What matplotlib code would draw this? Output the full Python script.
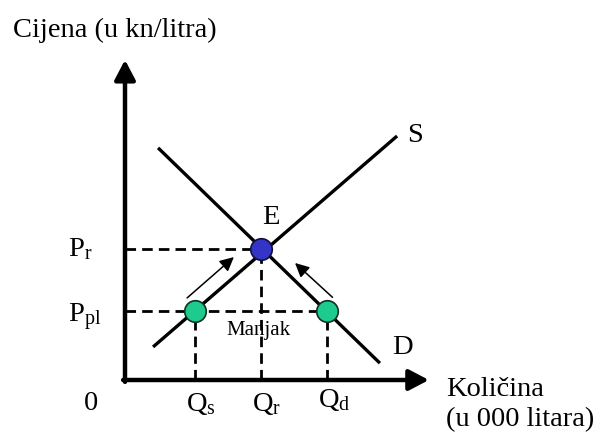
import matplotlib
matplotlib.use("Agg")
import matplotlib.pyplot as plt

plt.rcParams['font.family'] = ['Liberation Serif', 'DejaVu Serif']
plt.rcParams['mathtext.fontset'] = 'custom'
plt.rcParams['mathtext.rm'] = 'Liberation Serif'
plt.rcParams['mathtext.it'] = 'Liberation Serif'

# ---- data (economic units) ----
Q_s, Q_r, Q_d = 2.24, 4.36, 6.47          # quantities
P_r, P_pl = 4.20, 2.21                    # equilibrium and ceiling price
supply_q = [0.90, 8.72]
supply_p = [1.06, 7.82]
demand_q = [1.06, 8.17]
demand_p = [7.44, 0.54]
arrow_supply = [(1.99, 2.63), (3.49, 3.94)]   # tail, head
arrow_demand = [(6.65, 2.65), (5.45, 3.75)]
x_axis_max = 9.74
y_axis_max = 10.26

S = 31.2  # pixels per unit
fig = plt.figure(figsize=(6.0, 4.33), dpi=100)
ax = fig.add_axes([0, 0, 1, 1])
ax.set_xlim(-125 / S, (600 - 125) / S)
ax.set_ylim(-(433 - 380) / S, 380 / S)
ax.axis('off')

# axes with arrows
ax.annotate('', xy=(0, y_axis_max), xytext=(0, -0.06),
            arrowprops=dict(arrowstyle='-|>,head_length=0.8,head_width=0.42',
                            lw=3.2, color='black', shrinkA=0, shrinkB=0, mutation_scale=15))
ax.annotate('', xy=(x_axis_max, 0), xytext=(-0.06, 0),
            arrowprops=dict(arrowstyle='-|>,head_length=0.8,head_width=0.42',
                            lw=3.2, color='black', shrinkA=0, shrinkB=0, mutation_scale=15))

# dashed guides
dash = dict(color='black', lw=2.0, dashes=(3.8, 2.2))
ax.plot([0, Q_r], [P_r, P_r], **dash)
ax.plot([0, Q_d], [P_pl, P_pl], **dash)
ax.plot([Q_s, Q_s], [0, P_pl], **dash)
ax.plot([Q_r, Q_r], [0, P_r], **dash)
ax.plot([Q_d, Q_d], [0, P_pl], **dash)

# supply and demand
ax.plot(supply_q, supply_p, color='black', lw=2.4, solid_capstyle='butt')
ax.plot(demand_q, demand_p, color='black', lw=2.4, solid_capstyle='butt')

# movement arrows
for tail, head in (arrow_supply, arrow_demand):
    ax.annotate('', xy=head, xytext=tail,
                arrowprops=dict(arrowstyle='-|>,head_length=0.6,head_width=0.3',
                                lw=1.1, color='black', shrinkA=0, shrinkB=0, mutation_scale=14))

# points
ax.plot([Q_s, Q_d], [P_pl, P_pl], 'o', ms=15.5, mfc='#1ecb8e', mec='#103020', mew=1.2, zorder=5)
ax.plot([Q_r], [P_r], 'o', ms=15.5, mfc='#3434c8', mec='#10103a', mew=1.2, zorder=5)

fs = 20.5
def px(x, y):
    return ((x - 125) / S, (380 - y) / S)

ax.text(*px(13, 37), 'Cijena (u kn/litra)', fontsize=fs, ha='left', va='baseline')
ax.text(*px(446, 396), 'Količina', fontsize=fs, ha='left', va='baseline')
ax.text(*px(446, 426), '(u 000 litara)', fontsize=fs, ha='left', va='baseline')
ax.text(*px(415, 135), 'S', fontsize=fs, ha='center', va='center')
ax.text(*px(402, 347), 'D', fontsize=fs, ha='center', va='center')
ax.text(*px(271, 217), 'E', fontsize=fs, ha='center', va='center')
ax.text(*px(258, 331), 'Manjak', fontsize=15, ha='center', va='center')

ax.text(-57 / S, P_r, r'$\mathrm{P}_\mathrm{r}$', fontsize=fs, ha='left', va='center')
ax.text(-57 / S, P_pl - 0.2, r'$\mathrm{P}_\mathrm{pl}$', fontsize=fs, ha='left', va='center')
ax.text(*px(91, 404), '0', fontsize=fs, ha='center', va='center')
ax.text(Q_s - 0.3, -24 / S, r'$\mathrm{Q}_\mathrm{s}$', fontsize=fs, ha='left', va='center')
ax.text(Q_r - 0.3, -24 / S, r'$\mathrm{Q}_\mathrm{r}$', fontsize=fs, ha='left', va='center')
ax.text(Q_d - 0.3, -20 / S, r'$\mathrm{Q}_\mathrm{d}$', fontsize=fs, ha='left', va='center')

fig.savefig('out.png', dpi=100)
